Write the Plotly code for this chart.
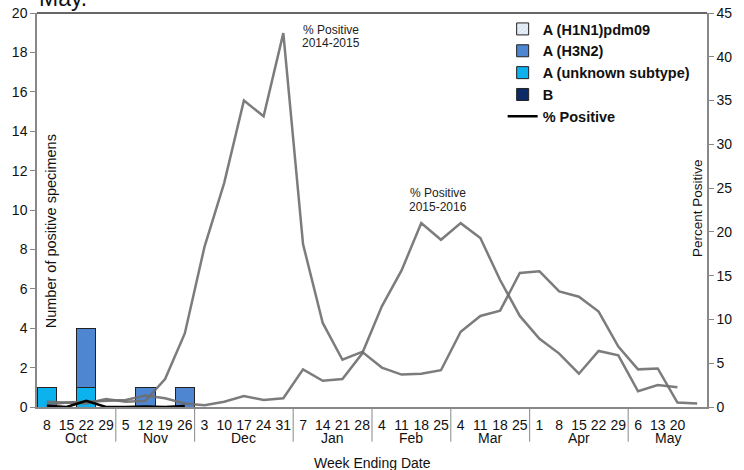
import plotly.graph_objects as go

weeks = ["Oct 8", "Oct 15", "Oct 22", "Oct 29",
         "Nov 5", "Nov 12", "Nov 19", "Nov 26",
         "Dec 3", "Dec 10", "Dec 17", "Dec 24", "Dec 31",
         "Jan 7", "Jan 14", "Jan 21", "Jan 28",
         "Feb 4", "Feb 11", "Feb 18", "Feb 25",
         "Mar 4", "Mar 11", "Mar 18", "Mar 25",
         "Apr 1", "Apr 8", "Apr 15", "Apr 22", "Apr 29",
         "May 6", "May 13", "May 20", "May 27"]
day_labels = ["8", "15", "22", "29", "5", "12", "19", "26", "3", "10", "17", "24", "31",
              "7", "14", "21", "28", "4", "11", "18", "25", "4", "11", "18", "25",
              "1", "8", "15", "22", "29", "6", "13", "20", ""]
months = ["Oct", "Nov", "Dec", "Jan", "Feb", "Mar", "Apr", "May"]
month_week_counts = [4, 4, 5, 4, 4, 4, 5, 4]

bar_weeks = weeks[:8]
h1n1 = [0, 0, 0, 0, 0, 0, 0, 0]
h3n2 = [0, 0, 3, 0, 0, 1, 0, 1]
a_unknown = [1, 0, 1, 0, 0, 0, 0, 0]
flu_b = [0, 0, 0, 0, 0, 0, 0, 0]

pct_current = [0.15, 0.0, 0.7, 0.0, 0.0, 0.05, 0.0, 0.1]
pct_2014_2015 = [0.6, 0.5, 0.4, 0.9, 0.6, 0.7, 3.2, 8.4, 18.3, 25.6, 35.0, 33.2, 42.7,
                 18.6, 9.6, 5.4, 6.3, 4.5, 3.7, 3.8, 4.2, 8.6, 10.4, 11.0, 15.3,
                 15.5, 13.2, 12.6, 10.9, 6.9, 4.3, 4.4, 0.5, 0.4]
pct_2015_2016 = [0.25, 0.5, 0.6, 0.7, 0.8, 1.3, 1.0, 0.4, 0.2, 0.6, 1.25, 0.8, 1.0,
                 4.3, 3.0, 3.2, 6.1, 11.5, 15.6, 21.0, 19.1, 21.0, 19.3, 14.5, 10.4,
                 7.8, 6.1, 3.8, 6.4, 5.9, 1.8, 2.5, 2.25]

FONT = "Arial, Liberation Sans, sans-serif"
bar_line = dict(color="#222222", width=1)

fig = go.Figure()
fig.add_trace(go.Bar(x=bar_weeks, y=a_unknown, name="A (unknown subtype)",
                     marker=dict(color="#0BB2EE", line=bar_line), legendrank=3))
fig.add_trace(go.Bar(x=bar_weeks, y=h3n2, name="A (H3N2)",
                     marker=dict(color="#4F86D2", line=bar_line), legendrank=2))
fig.add_trace(go.Bar(x=bar_weeks, y=h1n1, name="A (H1N1)pdm09",
                     marker=dict(color="#E6EEF8", line=bar_line,
                                 pattern=dict(shape="/", fgcolor="#9DB8DE", size=4)),
                     legendrank=1))
fig.add_trace(go.Bar(x=bar_weeks, y=flu_b, name="B",
                     marker=dict(color="#0B2A66", line=bar_line), legendrank=4))

gray = "rgba(110,110,110,0.9)"
fig.add_trace(go.Scatter(x=weeks, y=pct_2014_2015, mode="lines", yaxis="y2",
                         line=dict(color=gray, width=2.5), showlegend=False))
fig.add_trace(go.Scatter(x=weeks[:len(pct_2015_2016)], y=pct_2015_2016, mode="lines",
                         yaxis="y2", line=dict(color=gray, width=2.5), showlegend=False))
fig.add_trace(go.Scatter(x=bar_weeks, y=pct_current, mode="lines", yaxis="y2",
                         name="% Positive", line=dict(color="black", width=2.5),
                         legendrank=5))

annotations = []
shapes = []
start = 0
for m, n in zip(months, month_week_counts):
    center = start + (n - 1) / 2
    annotations.append(dict(x=center, y=-0.079, xref="x", yref="paper", text=m,
                            showarrow=False, font=dict(size=14, color="#111", family=FONT),
                            xanchor="center", yanchor="middle"))
    if start > 0:
        shapes.append(dict(type="line", xref="x", yref="paper", x0=start - 0.5, x1=start - 0.5,
                           y0=0, y1=-0.088, line=dict(color="#888", width=1)))
    start += n

def note(x, y, text, size):
    return dict(x=x, y=y, xref="paper", yref="y2", text=text, showarrow=False,
                font=dict(size=size, color="#222", family=FONT),
                xanchor="center", yanchor="middle")

annotations += [
    dict(x=0.5, y=-0.142, xref="paper", yref="paper", text="Week Ending Date", showarrow=False,
         font=dict(size=14, color="#111", family=FONT), xanchor="center", yanchor="middle"),
    dict(x=0.02, y=0.447, xref="paper", yref="paper", text="Number of positive specimens",
         textangle=-90, showarrow=False, font=dict(size=14.5, color="#111", family=FONT),
         xanchor="center", yanchor="middle"),
    dict(x=0.985, y=0.505, xref="paper", yref="paper", text="Percent Positive",
         textangle=-90, showarrow=False, font=dict(size=13.5, color="#111", family=FONT),
         xanchor="center", yanchor="middle"),
    note(0.4388, 43.06, "% Positive", 12),
    note(0.4388, 41.57, "2014-2015", 12),
    note(0.598, 24.4, "% Positive", 12),
    note(0.598, 22.9, "2015-2016", 12),
    dict(x=0.0, y=1.0, xref="paper", yref="paper", text="May.", showarrow=False,
         font=dict(size=23, color="#111", family=FONT), xanchor="left", yanchor="bottom"),
]

shapes.append(dict(type="line", xref="paper", yref="paper", x0=0, x1=1, y0=1, y1=1,
                   line=dict(color="#333", width=1.5)))

fig.update_layout(
    width=744, height=470,
    margin=dict(l=37, r=37, t=13, b=63),
    paper_bgcolor="white", plot_bgcolor="white",
    barmode="stack", bargap=0.02,
    font=dict(family=FONT, size=14, color="#111"),
    showlegend=True,
    legend=dict(x=0.695, y=1.0, xanchor="left", yanchor="top", traceorder="normal",
                font=dict(size=14.5, family=FONT, color="#111", weight="bold"),
                bgcolor="rgba(0,0,0,0)", tracegroupgap=0, itemwidth=30),
    xaxis=dict(type="category", categoryorder="array", categoryarray=weeks,
               tickmode="array", tickvals=weeks, ticktext=day_labels, automargin=False,
               ticks="", showgrid=False, showline=True, linecolor="#888", linewidth=1.5,
               ticklabelstandoff=4,
               tickfont=dict(size=14, color="#111"), range=[-0.5, len(weeks) - 0.5],
               zeroline=False),
    yaxis=dict(range=[0, 20], dtick=2, ticks="outside", ticklen=5, tickcolor="#888",
               automargin=False,
               showgrid=False, showline=True, linecolor="#888", linewidth=1.5,
               tickfont=dict(size=14, color="#111"), zeroline=False),
    yaxis2=dict(range=[0, 45], dtick=5, overlaying="y", side="right", ticks="outside",
                automargin=False,
                ticklen=5, tickcolor="#888", showgrid=False, showline=True, linecolor="#888",
                linewidth=1.5, tickfont=dict(size=14, color="#111"), zeroline=False),
    annotations=annotations,
    shapes=shapes,
)

fig.write_html("out.html", config={"displayModeBar": False},
               post_script="document.body.style.margin='0';document.body.style.overflow='hidden';")
